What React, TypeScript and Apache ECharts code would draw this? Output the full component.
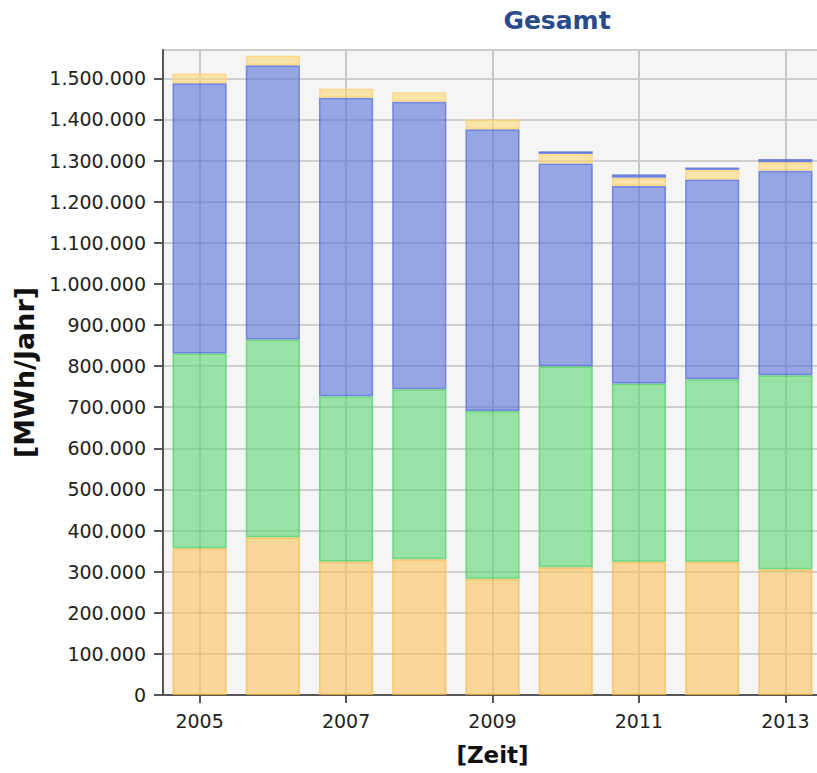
import React, { useEffect, useRef } from "react";
import * as echarts from "echarts";

const years = ["2005", "2006", "2007", "2008", "2009", "2010", "2011", "2012", "2013"];
const seriesOrange = [357000, 384000, 325000, 330000, 283000, 311000, 324000, 324000, 306000];
const seriesGreen = [474000, 481000, 402000, 414000, 408000, 489000, 434000, 444000, 472000];
const seriesBlue = [657000, 667000, 726000, 699000, 685000, 493000, 480000, 486000, 497000];
const seriesYellow = [24000, 23000, 22000, 23000, 24000, 23000, 20000, 23000, 21000];
const seriesBlueTop = [null, null, null, null, null, 7000, 9000, 6000, 8000];
const yTicks = [0, 100000, 200000, 300000, 400000, 500000, 600000, 700000, 800000, 900000, 1000000, 1100000, 1200000, 1300000, 1400000, 1500000];

const titleText = "Gesamt";
const yAxisName = "[MWh/Jahr]";
const xAxisName = "[Zeit]";

const fmt = (v: number) => String(v).replace(/\B(?=(\d{3})+(?!\d))/g, ".");

export default function App() {
  const ref = useRef<HTMLDivElement>(null);
  useEffect(() => {
    if (!ref.current) return;
    const chart = echarts.init(ref.current, null, { renderer: "svg" });
    const font = "DejaVu Sans";
    const mk = (name: string, data: any[], fill: string, border: string) => ({
      name,
      type: "bar",
      stack: "total",
      data,
      barCategoryGap: "26%",
      itemStyle: { color: fill, borderColor: border, borderWidth: 1.5 },
      emphasis: { disabled: true },
    });
    chart.setOption({
      animation: false,
      title: {
        text: titleText,
        left: 552,
        top: 3,
        textAlign: "center",
        textStyle: { fontFamily: font, fontSize: 25, fontWeight: "bold", color: "#2a4a8e" },
      },
      grid: {
        left: 163,
        width: 659,
        top: 50,
        bottom: 78,
        outerBoundsMode: "none",
        containLabel: false,
        show: true,
        backgroundColor: "#f5f5f5",
        borderColor: "#cccccc",
        borderWidth: 2,
      },
      xAxis: {
        type: "category",
        data: years,
        boundaryGap: true,
        name: xAxisName,
        nameLocation: "middle",
        nameGap: 48,
        nameTextStyle: { fontFamily: font, fontSize: 23, fontWeight: "bold", color: "#111" },
        axisLine: { lineStyle: { color: "#555", width: 2 } },
        axisTick: { show: true, alignWithLabel: true, interval: 1, length: 8, lineStyle: { color: "#555", width: 2 } },
        axisLabel: { interval: 1, margin: 16, fontFamily: font, fontSize: 19, color: "#222" },
        splitLine: { show: true, interval: 1, alignWithLabel: true, lineStyle: { color: "#c8c8c8", width: 2 } },
      },
      yAxis: {
        type: "value",
        min: 0,
        max: 1569000,
        interval: 100000,
        name: yAxisName,
        nameLocation: "middle",
        nameGap: 125,
        nameTextStyle: { fontFamily: font, fontSize: 27, fontWeight: "bold", color: "#111" },
        axisLine: { show: true, lineStyle: { color: "#555", width: 2 } },
        axisTick: { show: true, length: 9, customValues: yTicks, lineStyle: { color: "#555", width: 2 } },
        axisLabel: {
          margin: 17,
          fontFamily: font,
          fontSize: 19,
          color: "#222",
          customValues: yTicks,
          formatter: (v: number) => (v % 100000 === 0 ? fmt(v) : ""),
        },
        splitLine: { show: true, lineStyle: { color: "#cfcfcf", width: 2 } },
      },
      series: [
        mk("Anteil 1", seriesOrange, "rgba(253,193,90,0.6)", "rgba(250,185,70,0.7)"),
        mk("Anteil 2", seriesGreen, "rgba(90,213,113,0.6)", "rgba(80,210,105,0.75)"),
        mk("Anteil 3", seriesBlue, "rgba(87,112,215,0.6)", "rgba(80,105,220,0.7)"),
        mk("Anteil 4", seriesYellow, "rgba(255,217,117,0.6)", "rgba(252,210,110,0.7)"),
        mk("Anteil 5", seriesBlueTop, "rgba(87,112,215,0.6)", "rgba(80,105,220,0.7)"),
      ],
    });
    return () => chart.dispose();
  }, []);
  return <div ref={ref} style={{ position: "absolute", left: 0, top: 0, width: 817, height: 773, overflow: "hidden" }} />;
}
